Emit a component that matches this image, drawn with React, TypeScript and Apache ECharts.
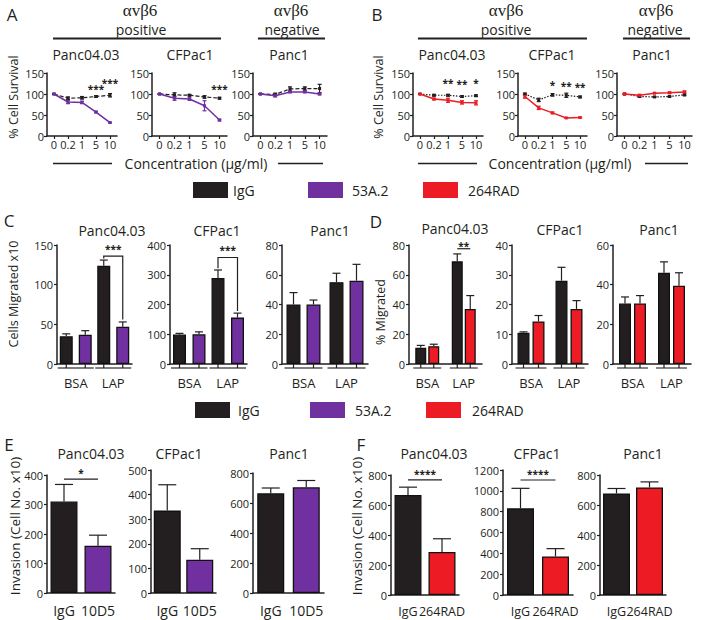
import React, { useEffect, useRef } from "react";
import * as echarts from "echarts";

const FONT = "'Open Sans', 'Liberation Sans', sans-serif";
const SERIF = "'Liberation Serif', 'DejaVu Serif', serif";
const BLACK = "#231f20";
const PURPLE = "#7030a0";
const RED = "#ed1c24";

// ---------------- data ----------------
const concentrations = ["0", "0.2", "1", "5", "10"];
const cellLines = ["Panc04.03", "CFPac1", "Panc1"];
const substrates = ["BSA", "LAP"];
const invasionLabels53 = ["IgG", "10D5"];
const invasionLabels264 = ["IgG", "264RAD"];

// A: % cell survival, IgG vs 53A.2
const survA_Panc0403_IgG = [100, 90, 91, 94, 97];
const survA_Panc0403_IgG_err = [1, 3, 3, 2, 4];
const survA_Panc0403_53A = [100, 81, 80, 57, 32];
const survA_Panc0403_53A_err = [1, 4, 3, 2, 1];
const survA_CFPac1_IgG = [100, 98, 97, 93, 90];
const survA_CFPac1_IgG_err = [1, 5, 2, 3, 2];
const survA_CFPac1_53A = [100, 90, 88, 72, 38];
const survA_CFPac1_53A_err = [1, 5, 3, 12, 2];
const survA_Panc1_IgG = [100, 99, 112, 113, 113];
const survA_Panc1_IgG_err = [1, 3, 5, 4, 10];
const survA_Panc1_53A = [100, 96, 105, 105, 100];
const survA_Panc1_53A_err = [1, 3, 2, 2, 2];
const starsA_Panc0403: [string, number, string][] = [["5", 113, "***"], ["10", 127, "***"]];
const starsA_CFPac1: [string, number, string][] = [["10", 113, "***"]];
const starsA_Panc1: [string, number, string][] = [];

// B: % cell survival, IgG vs 264RAD
const survB_Panc0403_IgG = [100, 97, 97, 94, 96];
const survB_Panc0403_IgG_err = [1, 2, 2, 2, 2];
const survB_Panc0403_264 = [100, 88, 85, 80, 79];
const survB_Panc0403_264_err = [1, 2, 5, 4, 5];
const survB_CFPac1_IgG = [100, 86, 98, 97, 93];
const survB_CFPac1_IgG_err = [2, 4, 3, 5, 2];
const survB_CFPac1_264 = [94, 67, 55, 43, 44];
const survB_CFPac1_264_err = [4, 4, 2, 1, 1];
const survB_Panc1_IgG = [100, 94, 93, 94, 98];
const survB_Panc1_IgG_err = [1, 2, 1, 1, 2];
const survB_Panc1_264 = [100, 97, 102, 103, 105];
const survB_Panc1_264_err = [2, 2, 1, 2, 2];
const starsB_Panc0403: [string, number, string][] = [["1", 126, "**"], ["5", 124, "**"], ["10", 126, "*"]];
const starsB_CFPac1: [string, number, string][] = [["1", 121, "*"], ["5", 119, "**"], ["10", 116, "**"]];
const starsB_Panc1: [string, number, string][] = [];

// C: cells migrated x10 (BSA, LAP)
const migC_Panc0403_IgG = [35, 124];
const migC_Panc0403_IgG_err = [3, 7];
const migC_Panc0403_53A = [37, 47];
const migC_Panc0403_53A_err = [5, 6];
const migC_CFPac1_IgG = [99, 289];
const migC_CFPac1_IgG_err = [4, 27];
const migC_CFPac1_53A = [100, 156];
const migC_CFPac1_53A_err = [8, 15];
const migC_Panc1_IgG = [40, 55];
const migC_Panc1_IgG_err = [8, 6];
const migC_Panc1_53A = [40, 56];
const migC_Panc1_53A_err = [3, 11];
// bracket: [height, left foot, right foot, label]
const sigC_Panc0403: [number, number, number, string] | null = [136, 133, 56, "***"];
const sigC_CFPac1: [number, number, number, string] | null = [358, 322, 178, "***"];

// D: % migrated (BSA, LAP)
const migD_Panc0403_IgG = [11, 69];
const migD_Panc0403_IgG_err = [1.5, 5];
const migD_Panc0403_264 = [12, 37];
const migD_Panc0403_264_err = [1.3, 9];
const migD_CFPac1_IgG = [10.5, 28];
const migD_CFPac1_IgG_err = [0.3, 4.5];
const migD_CFPac1_264 = [14.3, 18.5];
const migD_CFPac1_264_err = [2, 2.8];
const migD_Panc1_IgG = [30.5, 46];
const migD_Panc1_IgG_err = [3.3, 5.5];
const migD_Panc1_264 = [30.5, 39.5];
const migD_Panc1_264_err = [4, 6.5];
const sigD_Panc0403: [number, string] = [77.5, "**"];

// E: invasion (IgG vs 10D5)
const invE_Panc0403 = [310, 160];
const invE_Panc0403_err = [58, 36];
const invE_CFPac1 = [335, 135];
const invE_CFPac1_err = [105, 45];
const invE_Panc1 = [665, 705];
const invE_Panc1_err = [35, 45];
const sigE_Panc0403: [number, string] = [386, "*"];

// F: invasion (IgG vs 264RAD)
const invF_Panc0403 = [667, 287];
const invF_Panc0403_err = [52, 88];
const invF_CFPac1 = [832, 370];
const invF_CFPac1_err = [192, 75];
const invF_Panc1 = [677, 717];
const invF_Panc1_err = [33, 37];
const sigF_Panc0403: [number, string] = [767, "****"];
const sigF_CFPac1: [number, string] = [1104, "****"];

// ---------------- layout ----------------
type LinePanel = {
  left: number; top: number; width: number; height: number;
  igg: number[]; iggErr: number[]; trt: number[]; trtErr: number[];
  trtName: string; color: string; dash: number[]; stars: [string, number, string][];
};
const linePanels: LinePanel[] = [
  { left: 47, top: 73, width: 70, height: 63, igg: survA_Panc0403_IgG, iggErr: survA_Panc0403_IgG_err, trt: survA_Panc0403_53A, trtErr: survA_Panc0403_53A_err, trtName: "53A.2", color: PURPLE, dash: [4, 2], stars: starsA_Panc0403 },
  { left: 152, top: 73, width: 75, height: 63, igg: survA_CFPac1_IgG, iggErr: survA_CFPac1_IgG_err, trt: survA_CFPac1_53A, trtErr: survA_CFPac1_53A_err, trtName: "53A.2", color: PURPLE, dash: [4, 2], stars: starsA_CFPac1 },
  { left: 253, top: 73, width: 74, height: 63, igg: survA_Panc1_IgG, iggErr: survA_Panc1_IgG_err, trt: survA_Panc1_53A, trtErr: survA_Panc1_53A_err, trtName: "53A.2", color: PURPLE, dash: [4, 2], stars: starsA_Panc1 },
  { left: 413, top: 73, width: 70, height: 63, igg: survB_Panc0403_IgG, iggErr: survB_Panc0403_IgG_err, trt: survB_Panc0403_264, trtErr: survB_Panc0403_264_err, trtName: "264RAD", color: RED, dash: [1.5, 1.5], stars: starsB_Panc0403 },
  { left: 518, top: 73, width: 69, height: 63, igg: survB_CFPac1_IgG, iggErr: survB_CFPac1_IgG_err, trt: survB_CFPac1_264, trtErr: survB_CFPac1_264_err, trtName: "264RAD", color: RED, dash: [1.5, 1.5], stars: starsB_CFPac1 },
  { left: 617, top: 73, width: 75, height: 63, igg: survB_Panc1_IgG, iggErr: survB_Panc1_IgG_err, trt: survB_Panc1_264, trtErr: survB_Panc1_264_err, trtName: "264RAD", color: RED, dash: [1.5, 1.5], stars: starsB_Panc1 },
];

type GroupPanel = {
  left: number; top: number; width: number; height: number; max: number; interval: number;
  igg: number[]; iggErr: number[]; trt: number[]; trtErr: number[]; trtName: string; color: string;
  barW: number; off: number; bracket?: [number, number, number, string] | null; line?: [number, string];
};
const groupPanels: GroupPanel[] = [
  { left: 57, top: 245, width: 75, height: 119, max: 150, interval: 50, igg: migC_Panc0403_IgG, iggErr: migC_Panc0403_IgG_err, trt: migC_Panc0403_53A, trtErr: migC_Panc0403_53A_err, trtName: "53A.2", color: PURPLE, barW: 13, off: 9.5, bracket: sigC_Panc0403 },
  { left: 170, top: 245, width: 77, height: 119, max: 400, interval: 100, igg: migC_CFPac1_IgG, iggErr: migC_CFPac1_IgG_err, trt: migC_CFPac1_53A, trtErr: migC_CFPac1_53A_err, trtName: "53A.2", color: PURPLE, barW: 13, off: 9.75, bracket: sigC_CFPac1 },
  { left: 282, top: 245, width: 86, height: 119, max: 80, interval: 20, igg: migC_Panc1_IgG, iggErr: migC_Panc1_IgG_err, trt: migC_Panc1_53A, trtErr: migC_Panc1_53A_err, trtName: "53A.2", color: PURPLE, barW: 14, off: 10 },
  { left: 409, top: 245, width: 73, height: 119, max: 80, interval: 20, igg: migD_Panc0403_IgG, iggErr: migD_Panc0403_IgG_err, trt: migD_Panc0403_264, trtErr: migD_Panc0403_264_err, trtName: "264RAD", color: RED, barW: 11, off: 6.5, line: sigD_Panc0403 },
  { left: 512, top: 245, width: 76, height: 119, max: 40, interval: 10, igg: migD_CFPac1_IgG, iggErr: migD_CFPac1_IgG_err, trt: migD_CFPac1_264, trtErr: migD_CFPac1_264_err, trtName: "264RAD", color: RED, barW: 12, off: 7.5 },
  { left: 613, top: 245, width: 78, height: 119, max: 60, interval: 20, igg: migD_Panc1_IgG, iggErr: migD_Panc1_IgG_err, trt: migD_Panc1_264, trtErr: migD_Panc1_264_err, trtName: "264RAD", color: RED, barW: 12, off: 7.5 },
];

type InvPanel = {
  left: number; top: number; width: number; height: number; max: number; interval: number;
  labels: string[]; vals: number[]; errs: number[]; color: string; sig?: [number, string]; labelSize: number;
};
const invPanels: InvPanel[] = [
  { left: 47, top: 475, width: 68, height: 118, max: 400, interval: 100, labels: invasionLabels53, vals: invE_Panc0403, errs: invE_Panc0403_err, color: PURPLE, sig: sigE_Panc0403, labelSize: 14 },
  { left: 151, top: 470, width: 65, height: 123, max: 500, interval: 100, labels: invasionLabels53, vals: invE_CFPac1, errs: invE_CFPac1_err, color: PURPLE, labelSize: 14 },
  { left: 253, top: 473, width: 71, height: 120, max: 800, interval: 200, labels: invasionLabels53, vals: invE_Panc1, errs: invE_Panc1_err, color: PURPLE, labelSize: 14 },
  { left: 391, top: 475, width: 68, height: 120, max: 800, interval: 200, labels: invasionLabels264, vals: invF_Panc0403, errs: invF_Panc0403_err, color: RED, sig: sigF_Panc0403, labelSize: 12.5 },
  { left: 503, top: 470, width: 70, height: 125, max: 1200, interval: 200, labels: invasionLabels264, vals: invF_CFPac1, errs: invF_CFPac1_err, color: RED, sig: sigF_CFPac1, labelSize: 12.5 },
  { left: 600, top: 475, width: 66, height: 120, max: 800, interval: 200, labels: invasionLabels264, vals: invF_Panc1, errs: invF_Panc1_err, color: RED, labelSize: 12.5 },
];

// ---------------- helpers ----------------
const axisLine = { show: true, lineStyle: { color: BLACK, width: 1.5 } };
const axisTick = { show: true, length: 3, lineStyle: { color: BLACK, width: 1.2 } };
const tickLabel = { color: BLACK, fontSize: 11, fontFamily: FONT, formatter: (v: number) => String(v) };
const STAR_FONT = 10;

function errorSeries(xi: number, data: number[][], color: string, both: boolean, off: number, cap: number) {
  return {
    type: "custom", xAxisIndex: xi, yAxisIndex: xi, silent: true, z: 3,
    encode: { x: 0, y: 1 },
    data,
    renderItem: (_p: any, api: any) => {
      const c = api.value(0), v = api.value(1), e = api.value(2);
      const t = api.coord([c, v + e]);
      const b = api.coord([c, both ? v - e : v]);
      const x = t[0] + off;
      const st = { stroke: color, lineWidth: 1.2 };
      const ch: any[] = [
        { type: "line", shape: { x1: x, y1: t[1], x2: x, y2: b[1] }, style: st },
        { type: "line", shape: { x1: x - cap, y1: t[1], x2: x + cap, y2: t[1] }, style: st },
      ];
      if (both) ch.push({ type: "line", shape: { x1: x - cap, y1: b[1], x2: x + cap, y2: b[1] }, style: st });
      return { type: "group", children: ch };
    },
  };
}

function starSeries(xi: number, stars: [number, number, string][]) {
  return {
    type: "custom", xAxisIndex: xi, yAxisIndex: xi, silent: true, z: 4,
    encode: { x: 0, y: 1 },
    data: stars.map((s) => [s[0], s[1]]),
    renderItem: (p: any, api: any) => {
      const pt = api.coord([api.value(0), api.value(1)]);
      return {
        type: "text", x: pt[0], y: pt[1],
        style: { text: stars[p.dataIndex][2], fontSize: STAR_FONT, fontWeight: "bold", fontFamily: FONT, fill: BLACK, align: "center", verticalAlign: "middle" },
      };
    },
  };
}

function buildOption() {
  const grid: any[] = [], xAxis: any[] = [], yAxis: any[] = [], series: any[] = [];
  let gi = 0;

  linePanels.forEach((p) => {
    const i = gi++;
    grid.push({ left: p.left, top: p.top, width: p.width, height: p.height });
    xAxis.push({ type: "category", gridIndex: i, data: concentrations, boundaryGap: true, axisLine, axisTick: { ...axisTick, alignWithLabel: true }, axisLabel: { color: BLACK, fontSize: 11, fontFamily: FONT, interval: 0, margin: 3 }, splitLine: { show: false } });
    yAxis.push({ type: "value", gridIndex: i, min: 0, max: 150, interval: 50, axisLine, axisTick, axisLabel: { ...tickLabel, margin: 3 }, splitLine: { show: false } });
    series.push(errorSeries(i, p.igg.map((v, k) => [k, v, p.iggErr[k]]), BLACK, true, 0, 2));
    series.push(errorSeries(i, p.trt.map((v, k) => [k, v, p.trtErr[k]]), p.color, true, 0, 2));
    series.push({ type: "line", name: "IgG", xAxisIndex: i, yAxisIndex: i, data: p.igg, symbol: "rect", symbolSize: 3, itemStyle: { color: BLACK }, lineStyle: { color: BLACK, width: 1.2, type: p.dash }, z: 5 });
    series.push({ type: "line", name: p.trtName, xAxisIndex: i, yAxisIndex: i, data: p.trt, symbol: "rect", symbolSize: 3, itemStyle: { color: p.color }, lineStyle: { color: p.color, width: 1.5 }, z: 6 });
    if (p.stars.length) series.push(starSeries(i, p.stars.map((s) => [concentrations.indexOf(s[0]), s[1], s[2]] as [number, number, string])));
  });

  groupPanels.forEach((p) => {
    const i = gi++;
    const gapPct = Math.round(((2 * p.off - p.barW) / p.barW) * 100) + "%";
    grid.push({ left: p.left, top: p.top, width: p.width, height: p.height });
    xAxis.push({ type: "category", gridIndex: i, data: substrates, axisLine, axisTick: { show: false }, axisLabel: { color: BLACK, fontSize: 13, fontFamily: FONT, margin: 12 }, splitLine: { show: false } });
    yAxis.push({ type: "value", gridIndex: i, min: 0, max: p.max, interval: p.interval, axisLine, axisTick, axisLabel: { ...tickLabel, margin: 4 }, splitLine: { show: false } });
    const bs = { borderColor: "#111", borderWidth: 1.3 };
    series.push({ type: "bar", name: "IgG", xAxisIndex: i, yAxisIndex: i, data: p.igg, barWidth: p.barW, barGap: gapPct, itemStyle: { color: BLACK, ...bs }, z: 2 });
    series.push({ type: "bar", name: p.trtName, xAxisIndex: i, yAxisIndex: i, data: p.trt, barWidth: p.barW, barGap: gapPct, itemStyle: { color: p.color, ...bs }, z: 2 });
    series.push(errorSeries(i, p.igg.map((v, k) => [k, v, p.iggErr[k]]), BLACK, false, -p.off, 4));
    series.push(errorSeries(i, p.trt.map((v, k) => [k, v, p.trtErr[k]]), BLACK, false, p.off, 4));
    // group underline + ticks
    series.push({
      type: "custom", xAxisIndex: i, yAxisIndex: i, silent: true, z: 3, encode: { x: 0, y: 1 },
      data: substrates.map((_, k) => [k, 0]),
      renderItem: (_pp: any, api: any) => {
        const c = api.coord([api.value(0), 0]);
        const hs = p.off + p.barW / 2 + 2;
        const st = { stroke: "#555", lineWidth: 1.4 };
        return {
          type: "group", children: [
            { type: "line", shape: { x1: c[0] - hs, y1: c[1] + 4, x2: c[0] + hs, y2: c[1] + 4 }, style: st },
            { type: "line", shape: { x1: c[0] - p.off, y1: c[1], x2: c[0] - p.off, y2: c[1] + 4 }, style: { stroke: BLACK, lineWidth: 1.2 } },
            { type: "line", shape: { x1: c[0] + p.off, y1: c[1], x2: c[0] + p.off, y2: c[1] + 4 }, style: { stroke: BLACK, lineWidth: 1.2 } },
          ],
        };
      },
    });
    if (p.bracket) {
      const br = p.bracket;
      series.push({
        type: "custom", xAxisIndex: i, yAxisIndex: i, silent: true, z: 4, encode: { x: 0, y: 1 },
        data: [[1, br[0], br[1], br[2]]],
        renderItem: (_pp: any, api: any) => {
          const h = api.coord([1, api.value(1)]);
          const l = api.coord([1, api.value(2)]);
          const r = api.coord([1, api.value(3)]);
          const xl = h[0] - p.off, xr = h[0] + p.off;
          const st = { stroke: BLACK, lineWidth: 1.2 };
          return {
            type: "group", children: [
              { type: "polyline", shape: { points: [[xl, l[1]], [xl, h[1]], [xr, h[1]], [xr, r[1]]] }, style: { ...st, fill: "none" } },
              { type: "text", x: h[0], y: h[1] - 2, style: { text: br[3], fontSize: STAR_FONT, fontWeight: "bold", fontFamily: FONT, fill: BLACK, align: "center", verticalAlign: "bottom" } },
            ],
          };
        },
      });
    }
    if (p.line) {
      const ln = p.line;
      series.push({
        type: "custom", xAxisIndex: i, yAxisIndex: i, silent: true, z: 4, encode: { x: 0, y: 1 },
        data: [[1, ln[0]]],
        renderItem: (_pp: any, api: any) => {
          const h = api.coord([1, api.value(1)]);
          return {
            type: "group", children: [
              { type: "line", shape: { x1: h[0] - p.off, y1: h[1], x2: h[0] + p.off, y2: h[1] }, style: { stroke: BLACK, lineWidth: 1.2 } },
              { type: "text", x: h[0], y: h[1] - 3, style: { text: ln[1], fontSize: STAR_FONT, fontWeight: "bold", fontFamily: FONT, fill: BLACK, align: "center", verticalAlign: "middle" } },
            ],
          };
        },
      });
    }
  });

  invPanels.forEach((p) => {
    const i = gi++;
    grid.push({ left: p.left, top: p.top, width: p.width, height: p.height });
    xAxis.push({ type: "category", gridIndex: i, data: p.labels, axisLine, axisTick: { show: false }, axisLabel: { color: BLACK, fontSize: p.labelSize, fontFamily: FONT, margin: 10, interval: 0 }, splitLine: { show: false } });
    yAxis.push({ type: "value", gridIndex: i, min: 0, max: p.max, interval: p.interval, axisLine, axisTick, axisLabel: { ...tickLabel, margin: 4 }, splitLine: { show: false } });
    series.push({
      type: "bar", xAxisIndex: i, yAxisIndex: i, barWidth: 27, z: 2,
      data: p.vals.map((v, k) => ({ value: v, itemStyle: { color: k === 0 ? BLACK : p.color, borderColor: "#111", borderWidth: 1.3 } })),
    });
    series.push(errorSeries(i, p.vals.map((v, k) => [k, v, p.errs[k]]), BLACK, false, 0, 9));
    if (p.sig) {
      const sg = p.sig;
      series.push({
        type: "custom", xAxisIndex: i, yAxisIndex: i, silent: true, z: 4, encode: { x: 0, y: 1 },
        data: [[0, sg[0]]],
        renderItem: (_pp: any, api: any) => {
          const a = api.coord([0, api.value(1)]);
          const b = api.coord([1, api.value(1)]);
          return {
            type: "group", children: [
              { type: "line", shape: { x1: a[0], y1: a[1], x2: b[0], y2: b[1] }, style: { stroke: BLACK, lineWidth: 1.2 } },
              { type: "text", x: (a[0] + b[0]) / 2, y: a[1] - 1, style: { text: sg[1], fontSize: STAR_FONT, fontWeight: "bold", fontFamily: FONT, fill: BLACK, align: "center", verticalAlign: "bottom" } },
            ],
          };
        },
      });
    }
  });

  // ----- static texts / decorations -----
  const txt = (text: string, x: number, y: number, size: number, opts: any = {}) => ({
    type: "text", x, y, rotation: opts.rotation || 0,
    style: { text, fontSize: size, fontFamily: opts.family || FONT, fill: BLACK, align: opts.align || "center", verticalAlign: "middle", fontWeight: opts.weight || "normal" },
  });
  const hline = (x1: number, x2: number, y: number, w = 2) => ({ type: "line", shape: { x1, y1: y, x2, y2: y }, style: { stroke: BLACK, lineWidth: w } });
  const rect = (x: number, y: number, color: string) => ({ type: "rect", shape: { x, y, width: 35, height: 16 }, style: { fill: color } });

  const graphic: any[] = [
    txt("A", 12, 14, 17), txt("B", 377, 14, 17), txt("C", 9, 220, 17), txt("D", 376, 221, 17), txt("E", 9, 444, 17), txt("F", 361, 444, 17),
    // headers
    txt("αvβ6", 140, 10, 17, { family: SERIF }), txt("positive", 141, 29, 14), hline(53, 221, 38.5),
    txt("αvβ6", 291, 10, 17, { family: SERIF }), txt("negative", 292, 29, 14), hline(258, 325, 38.5),
    txt("αvβ6", 506, 10, 17, { family: SERIF }), txt("positive", 506, 29, 14), hline(418, 587, 38.5),
    txt("αvβ6", 656, 10, 17, { family: SERIF }), txt("negative", 655, 29, 14), hline(623, 690, 38.5),
    // panel titles
    txt(cellLines[0], 86, 54, 14), txt(cellLines[1], 190, 54, 14), txt(cellLines[2], 289, 54, 14),
    txt(cellLines[0], 452, 54, 14), txt(cellLines[1], 552, 54, 14), txt(cellLines[2], 652, 54, 14),
    txt(cellLines[0], 112, 230, 14), txt(cellLines[1], 217, 230, 14), txt(cellLines[2], 330, 230, 14),
    txt(cellLines[0], 455, 228, 14), txt(cellLines[1], 560, 229, 14), txt(cellLines[2], 659, 229, 14),
    txt(cellLines[0], 91, 453, 14), txt(cellLines[1], 179, 453, 14), txt(cellLines[2], 289, 453, 14),
    txt(cellLines[0], 434, 453, 14), txt(cellLines[1], 537, 453, 14), txt(cellLines[2], 643, 453, 14),
    // y axis names
    txt("% Cell Survival", 13, 97, 12.5, { rotation: Math.PI / 2 }),
    txt("% Cell Survival", 378, 97, 12.5, { rotation: Math.PI / 2 }),
    txt("Cells Migrated x10", 13, 294, 12.5, { rotation: Math.PI / 2 }),
    txt("% Migrated", 380, 312, 12.5, { rotation: Math.PI / 2 }),
    txt("Invasion (Cell No. x10)", 15, 526, 13.5, { rotation: Math.PI / 2 }),
    txt("Invasion (Cell No. x10)", 357, 526, 13.5, { rotation: Math.PI / 2 }),
    // concentration labels
    txt("Concentration (μg/ml)", 196, 163, 14), hline(53, 112, 163.5, 1.5), hline(278, 323, 163.5, 1.5),
    txt("Concentration (μg/ml)", 560, 163, 14), hline(418, 477, 163.5, 1.5), hline(645, 688, 163.5, 1.5),
    // legends
    rect(193, 182, BLACK), txt("IgG", 233, 190, 14, { align: "left" }),
    rect(308, 182, PURPLE), txt("53A.2", 352, 190, 14, { align: "left" }),
    rect(423, 182, RED), txt("264RAD", 468, 190, 14, { align: "left" }),
    rect(195, 402, BLACK), txt("IgG", 238, 410, 14, { align: "left" }),
    rect(310, 402, PURPLE), txt("53A.2", 355, 410, 14, { align: "left" }),
    rect(426, 402, RED), txt("264RAD", 472, 410, 14, { align: "left" }),
  ];

  return { animation: false, backgroundColor: "#ffffff", grid, xAxis, yAxis, series, graphic };
}

export default function App() {
  const ref = useRef<HTMLDivElement>(null);
  useEffect(() => {
    const chart = echarts.init(ref.current!, null, { renderer: "svg" });
    chart.setOption(buildOption() as any);
    return () => chart.dispose();
  }, []);
  return <div ref={ref} style={{ position: "absolute", left: 0, top: 0, width: 709, height: 620, background: "#fff" }} />;
}
